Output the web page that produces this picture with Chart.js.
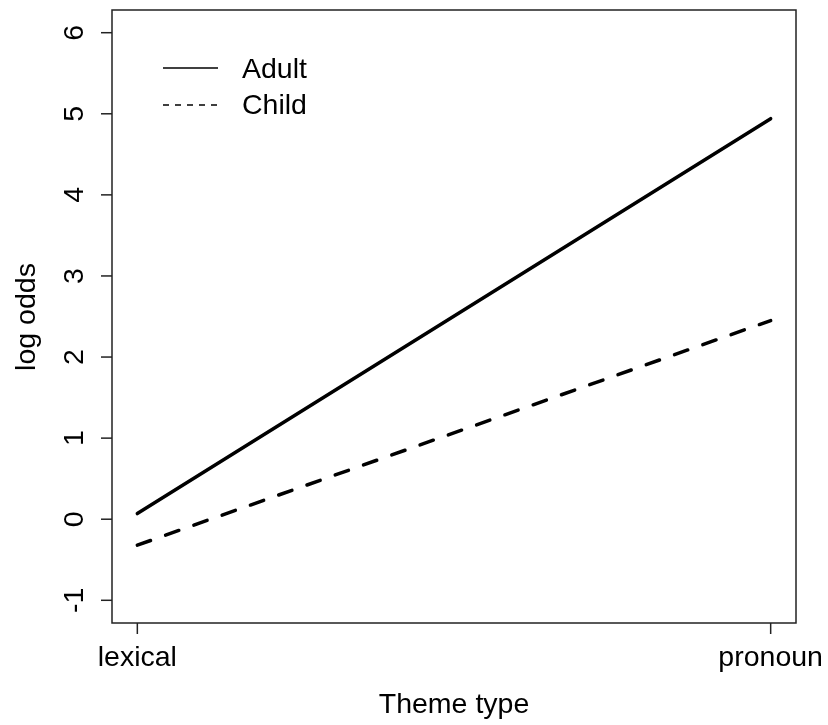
<!DOCTYPE html>
<html>
<head>
<meta charset="utf-8">
<script src="https://cdn.jsdelivr.net/npm/chart.js@4.4.1/dist/chart.umd.min.js"></script>
<style>
  html, body { margin: 0; padding: 0; background: #ffffff; }
  #wrap { width: 828px; height: 725px; }
</style>
</head>
<body>
<div id="wrap"><canvas id="chart" width="828" height="725"></canvas></div>
<script>
// categories on the x axis (placed at 1 and 2)
var categories = ["lexical", "pronoun"];
var categoryPos = [1, 2];

// series values (log odds)
var adultValues = [0.07, 4.94];
var childValues = [-0.32, 2.45];

// y tick labels
var yTicks = [-1, 0, 1, 2, 3, 4, 5, 6];

var FONT = '"Liberation Sans", Arial, Helvetica, sans-serif';
var FONT_SIZE = 28.5;

function points(values) {
    return values.map(function (v, i) { return { x: categoryPos[i], y: v }; });
}

var rAxes = {
    id: "rAxes",
    afterDraw: function (chart) {
        var ctx = chart.ctx;
        var area = chart.chartArea;
        var xs = chart.scales.x;
        var ys = chart.scales.y;
        ctx.save();

        // box
        ctx.strokeStyle = "#222";
        ctx.lineWidth = 1.5;
        ctx.strokeRect(area.left, area.top, area.right - area.left, area.bottom - area.top);

        ctx.fillStyle = "#000";
        ctx.font = FONT_SIZE + "px " + FONT;

        // x ticks
        ctx.textAlign = "center";
        ctx.textBaseline = "alphabetic";
        categories.forEach(function (c, i) {
            var px = xs.getPixelForValue(categoryPos[i]);
            ctx.beginPath();
            ctx.moveTo(px, area.bottom);
            ctx.lineTo(px, area.bottom + 11);
            ctx.stroke();
            ctx.fillText(c, px, 666);
        });

        // y ticks, labels parallel to the axis
        yTicks.forEach(function (t) {
            var py = ys.getPixelForValue(t);
            ctx.beginPath();
            ctx.moveTo(area.left, py);
            ctx.lineTo(area.left - 11, py);
            ctx.stroke();
            ctx.save();
            ctx.translate(83, py);
            ctx.rotate(-Math.PI / 2);
            ctx.textAlign = "center";
            ctx.fillText(String(t), 0, 0);
            ctx.restore();
        });

        // axis titles
        ctx.textAlign = "center";
        ctx.fillText("Theme type", (xs.getPixelForValue(1) + xs.getPixelForValue(2)) / 2, 713);
        ctx.save();
        ctx.translate(35, 317);
        ctx.rotate(-Math.PI / 2);
        ctx.fillText("log odds", 0, 0);
        ctx.restore();

        // legend
        ctx.lineWidth = 1.5;
        ctx.strokeStyle = "#000";
        ctx.beginPath();
        ctx.moveTo(163, 68);
        ctx.lineTo(218, 68);
        ctx.stroke();
        ctx.setLineDash([6, 6]);
        ctx.beginPath();
        ctx.moveTo(163, 105);
        ctx.lineTo(218, 105);
        ctx.stroke();
        ctx.setLineDash([]);
        ctx.textAlign = "left";
        ctx.textBaseline = "middle";
        ctx.fillText("Adult", 242, 70);
        ctx.fillText("Child", 242, 106);

        ctx.restore();
    }
};

new Chart(document.getElementById("chart"), {
    type: "line",
    data: {
        datasets: [
            {
                label: "Adult",
                data: points(adultValues),
                borderColor: "#000",
                borderWidth: 3.5,
                borderCapStyle: "round",
                pointRadius: 0,
                fill: false
            },
            {
                label: "Child",
                data: points(childValues),
                borderColor: "#000",
                borderWidth: 3.5,
                borderCapStyle: "round",
                borderDash: [14, 16],
                pointRadius: 0,
                fill: false
            }
        ]
    },
    options: {
        responsive: false,
        animation: false,
        layout: { padding: { left: 112, top: 10, right: 32, bottom: 102 } },
        plugins: { legend: { display: false }, tooltip: { enabled: false } },
        scales: {
            x: { type: "linear", min: 0.96, max: 2.04, display: false },
            y: { type: "linear", min: -1.28, max: 6.28, display: false }
        }
    },
    plugins: [rAxes]
});
</script>
</body>
</html>
